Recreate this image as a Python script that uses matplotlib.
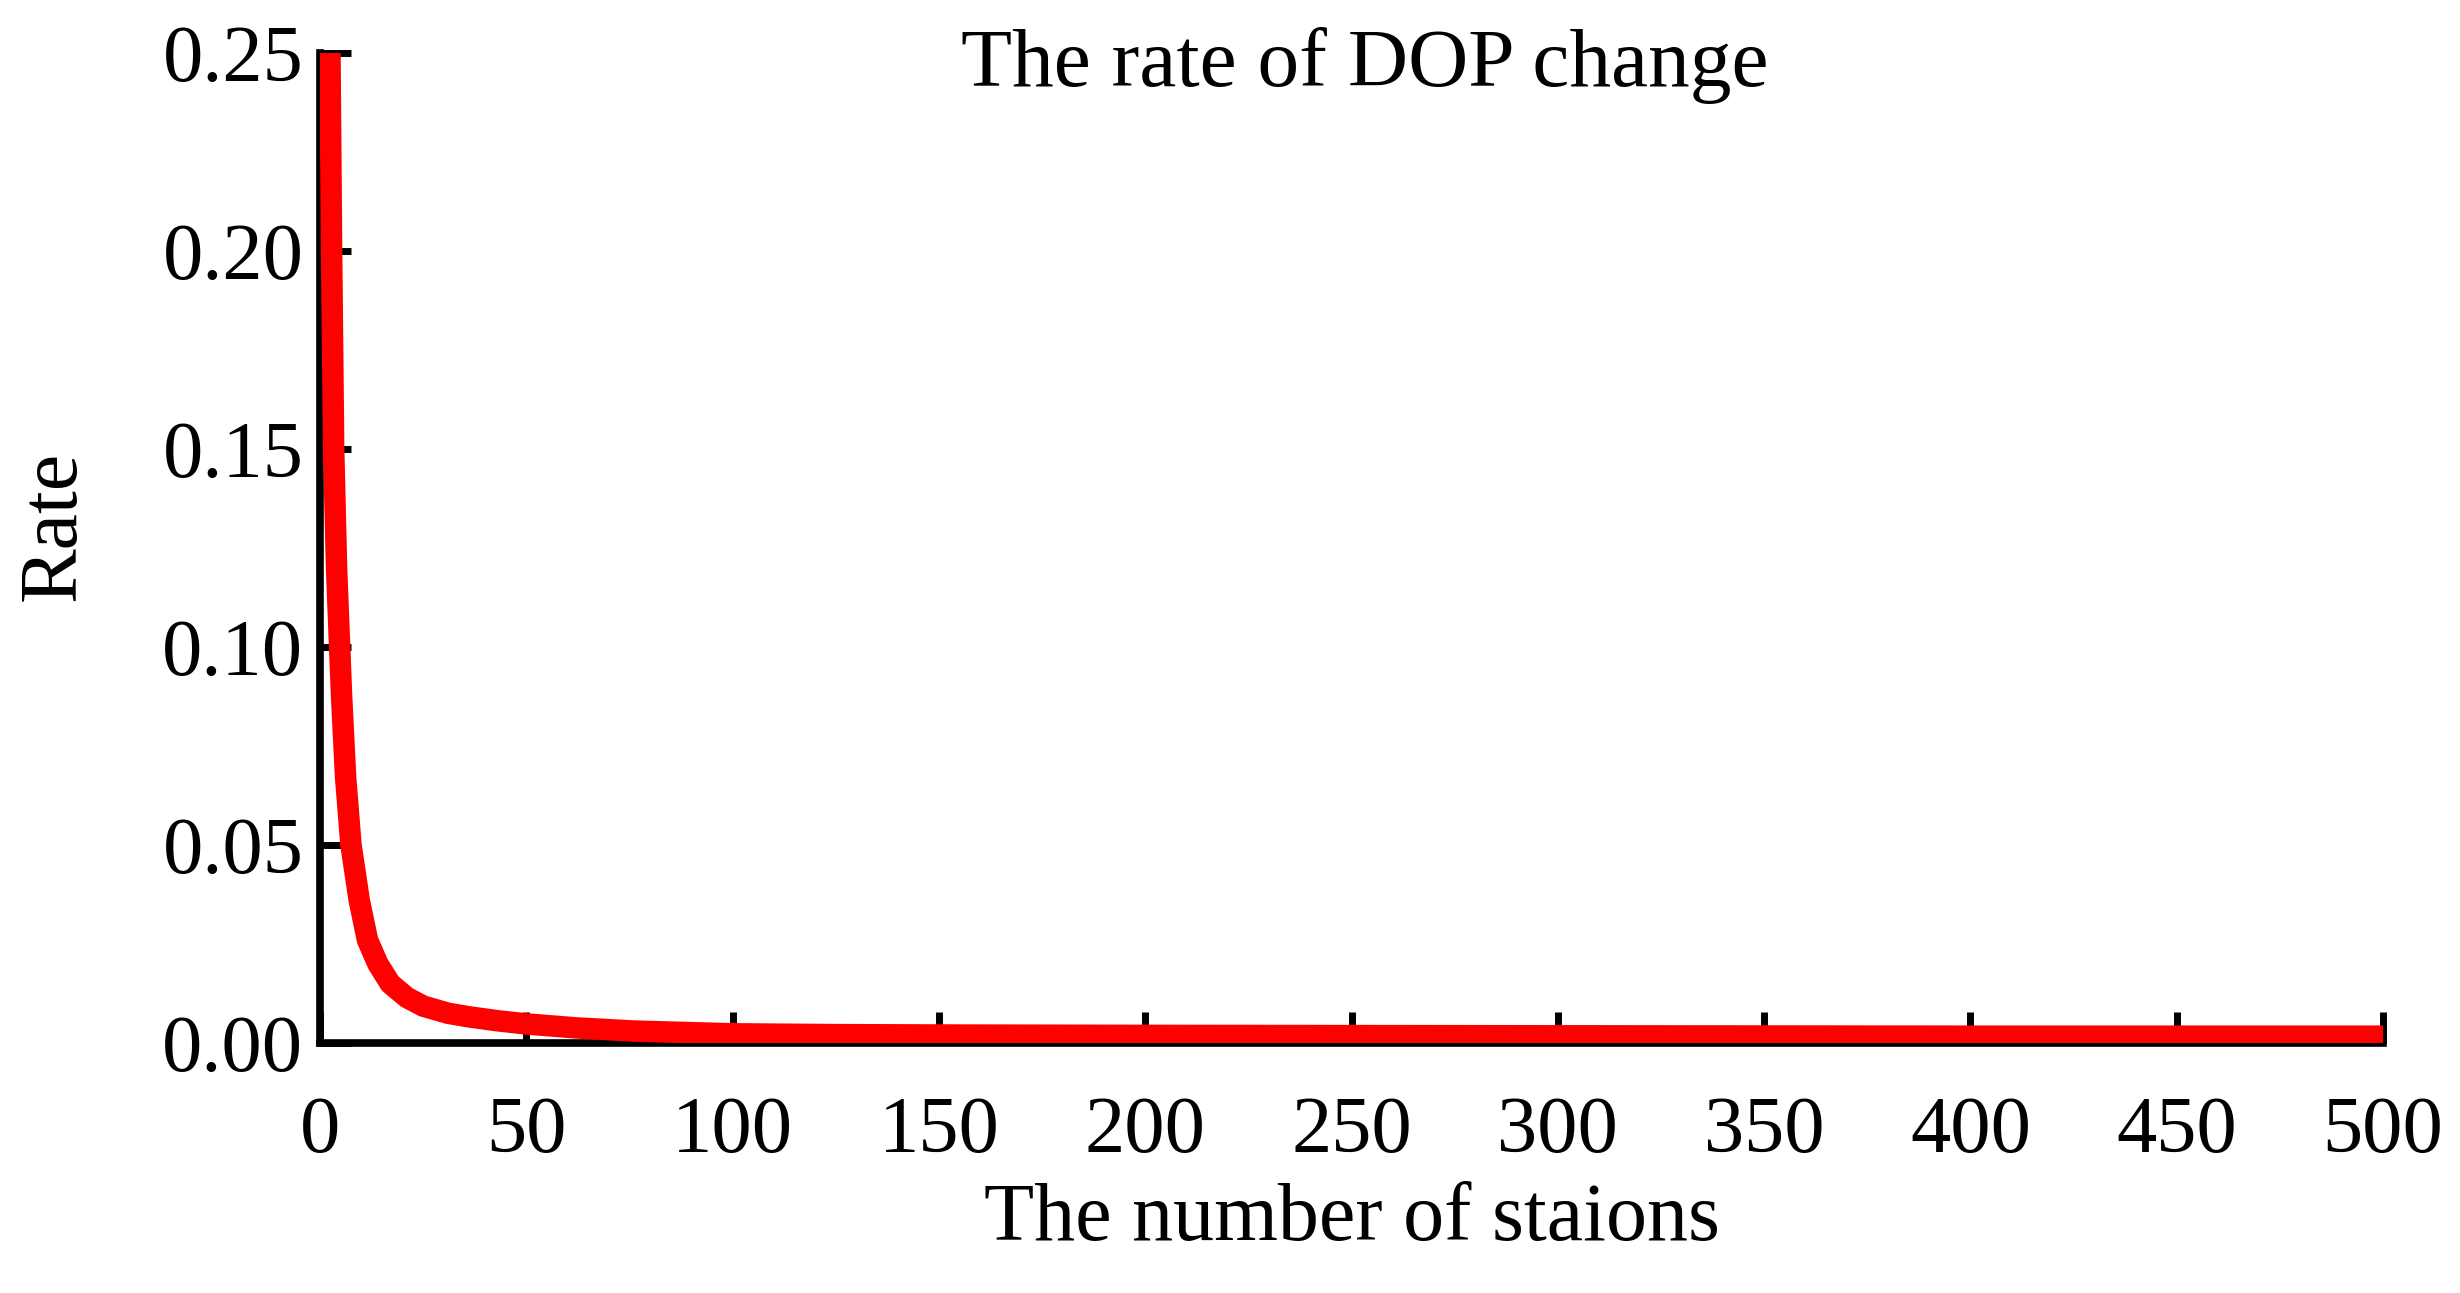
import matplotlib.pyplot as plt

# values
stations = [2.4, 2.8, 3.3, 4.0, 5.2, 6.2, 7.5, 9.5, 11.5, 14.0, 17.0, 21.0,
            25.0, 31.0, 36.0, 43.0, 50.0, 62.0, 76.0, 100.0, 125.0, 150.0,
            200.0, 300.0, 400.0, 500.0]
rate = [0.25, 0.20, 0.15, 0.12, 0.088, 0.067, 0.05, 0.036, 0.026, 0.020,
        0.015, 0.0115, 0.0093, 0.0075, 0.0066, 0.0056, 0.0048, 0.0038,
        0.0030, 0.0023, 0.0021, 0.0020, 0.0019, 0.0018, 0.0017, 0.0017]

x_ticks = [0, 50, 100, 150, 200, 250, 300, 350, 400, 450, 500]
y_ticks = [0.00, 0.05, 0.10, 0.15, 0.20, 0.25]
y_tick_labels = ["0.00", "0.05", "0.10", "0.15", "0.20", "0.25"]

plt.rcParams["font.family"] = ["Liberation Serif", "DejaVu Serif"]

fig = plt.figure(figsize=(24.6, 12.93), dpi=100)
ax = fig.add_axes([0.1301, 0.1934, 0.8386, 0.7657])

ax.plot(stations, rate, color="#ff0000", linewidth=15.5,
        solid_capstyle="butt", solid_joinstyle="round", zorder=3)

ax.set_xlim(0, 500)
ax.set_ylim(0, 0.25)
ax.set_xticks(x_ticks)
ax.set_yticks(y_ticks)
ax.set_yticklabels(y_tick_labels)

for side in ["top", "right"]:
    ax.spines[side].set_visible(False)
for side in ["left", "bottom"]:
    ax.spines[side].set_linewidth(5.5)

ax.tick_params(axis="both", direction="in", length=22, width=5,
               labelsize=58)
ax.tick_params(axis="x", pad=38)
ax.tick_params(axis="y", pad=12)

ax.text(0.5066, 0.967, "The rate of DOP change", transform=ax.transAxes,
        ha="center", va="baseline", fontsize=60)

ax.set_xlabel("The number of staions", fontsize=59, va="baseline")
ax.xaxis.set_label_coords(0.5, -0.199)
ax.set_ylabel("Rate", fontsize=59, va="center")
ax.yaxis.set_label_coords(-0.1285, 0.522)

fig.savefig("out.png", dpi=100)
